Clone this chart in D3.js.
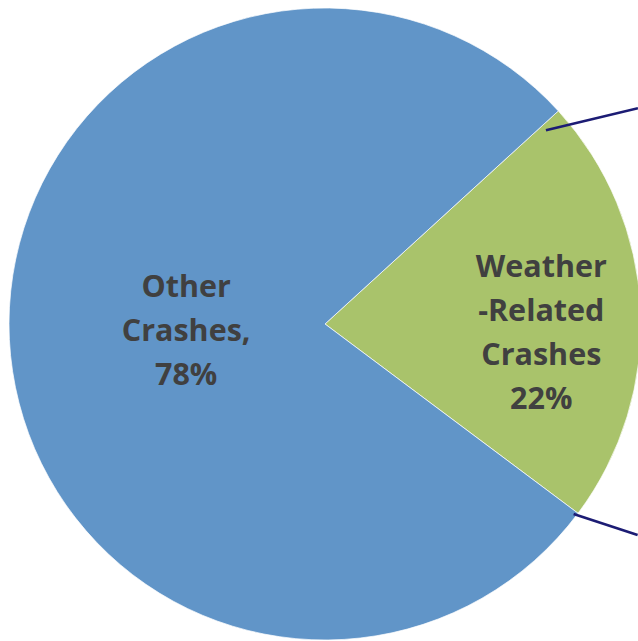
<!DOCTYPE html>
<html>
<head>
<meta charset="utf-8">
<title>Crashes by weather</title>
<script src="https://d3js.org/d3.v7.min.js"></script>
<style>
  html, body { margin: 0; padding: 0; background: #fff; overflow: hidden; }
</style>
</head>
<body>
<div id="chart"></div>
<script>
    // slice data
    const categories = ["Weather-Related Crashes", "Other Crashes"];
    const values = [22, 78];
    const labelLines = [["Weather", "-Related", "Crashes", "22%"], ["Other", "Crashes,", "78%"]];
    const colors = ["#a9c36b", "#6195c8"];

    const width = 638;
    const height = 641;
    const cx = 325, cy = 324, radius = 316;

    const svg = d3.select("#chart")
        .append("svg")
        .attr("width", width)
        .attr("height", height);

    const g = svg.append("g")
        .attr("transform", `translate(${cx},${cy})`);

    const start = 47.6 * Math.PI / 180;
    const pie = d3.pie()
        .sort(null)
        .value(d => d)
        .startAngle(start)
        .endAngle(start + 2 * Math.PI);

    const arcs = pie(values);
    const arc = d3.arc().innerRadius(0).outerRadius(radius);

    g.selectAll("path.slice")
        .data(arcs)
        .join("path")
        .attr("class", "slice")
        .attr("fill", (d, i) => colors[i])
        .attr("stroke", "#fff")
        .attr("stroke-width", 0.7)
        .attr("d", arc);

    // leader lines going off to the right
    const leaders = [
        { a: arcs[0].startAngle + 0.02, r0: 0.93, dx: 92, dy: -22 },
        { a: arcs[0].endAngle + 0.01, r0: 0.99, dx: 64, dy: 21 }
    ];
    leaders.forEach(l => {
        const x0 = Math.sin(l.a) * radius * l.r0;
        const y0 = -Math.cos(l.a) * radius * l.r0;
        g.append("line")
            .attr("x1", x0).attr("y1", y0)
            .attr("x2", x0 + l.dx).attr("y2", y0 + l.dy)
            .attr("stroke", "#1c1c74")
            .attr("stroke-width", 2.6);
    });

    // labels
    const labelR = [0.685, 0.44];
    const labelShift = [5 * Math.PI / 180, 0];
    const lineH = 44;
    arcs.forEach((d, i) => {
        const a = (d.startAngle + d.endAngle) / 2 + labelShift[i];
        const x = Math.sin(a) * radius * labelR[i];
        const y = -Math.cos(a) * radius * labelR[i];
        const lines = labelLines[i];
        const t = g.append("text")
            .attr("text-anchor", "middle")
            .attr("font-family", "'Open Sans', 'Noto Sans', sans-serif")
            .attr("font-weight", "bold")
            .attr("font-size", 30.5)
            .attr("fill", "#404040");
        lines.forEach((s, k) => {
            t.append("tspan")
                .attr("x", x)
                .attr("y", y + (k - (lines.length - 1) / 2) * lineH)
                .attr("dy", "0.35em")
                .text(s);
        });
    });
</script>
</body>
</html>
